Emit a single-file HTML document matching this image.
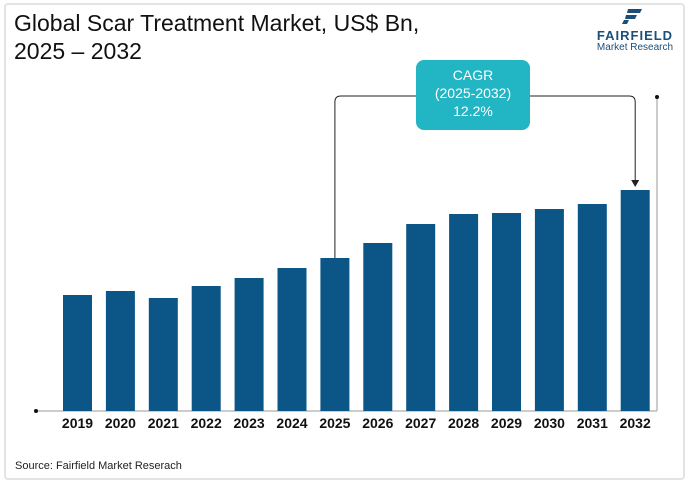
<!DOCTYPE html>
<html><head><meta charset="utf-8"><style>
body{margin:0;width:691px;height:485px;background:#fff;overflow:hidden;font-family:"Liberation Sans",sans-serif;}
.card{position:absolute;left:4px;top:3px;width:681px;height:477px;border:2px solid #e3e3e3;border-radius:4px;box-sizing:border-box;}
.title{position:absolute;left:14px;top:9px;font-size:23px;line-height:28px;color:#111;}
.logo{position:absolute;left:590px;top:8px;width:90px;text-align:center;}
.src{position:absolute;left:15px;top:460px;font-size:11px;color:#222;}
</style></head><body>
<div class="card"></div>
<div class="title">Global Scar Treatment Market, US$ Bn,<br>2025 – 2032</div>
<div class="logo">
<svg width="30" height="16" viewBox="0 0 30 16"><path d="M8 1h14l-2 4H7z M6 7h11l-2 4H5z M4 12h5l-2 4H2z" fill="#1b4f7a"/></svg>
<div style="font-size:13px;font-weight:bold;color:#1b4f7a;letter-spacing:1px;line-height:13px">FAIRFIELD</div>
<div style="font-size:10px;color:#1b4f7a;line-height:12px">Market Research</div>
</div>
<svg id="chart" width="691" height="485" style="position:absolute;left:0;top:0"></svg>
<div class="src">Source: Fairfield Market Reserach</div>
<script>
const categories=["2019","2020","2021","2022","2023","2024","2025","2026","2027","2028","2029","2030","2031","2032"];
const values=[116,120,113,125,133,143,153,168,187,197,198,202,207,221];
const NS="http://www.w3.org/2000/svg";
const svg=document.getElementById('chart');
const base=411, x0=63, step=42.9, bw=29;
const y=v=>base-v;
const xc=i=>x0+i*step;
function mk(t,a){const e=document.createElementNS(NS,t);for(const k in a)e.setAttribute(k,a[k]);svg.appendChild(e);return e;}
let ax=mk('line',{x1:36,y1:base,x2:657,y2:base,stroke:'#bbb','stroke-width':1.5});


let rl=mk('line',{x1:657,y1:97,x2:657,y2:base,stroke:'#bbb','stroke-width':1.5});


mk('circle',{cx:36,cy:base,r:2,fill:'#111'});
mk('circle',{cx:657,cy:97,r:2,fill:'#111'});
categories.forEach((c,i)=>{
 const r=mk('rect',{x:xc(i),y:y(values[i]),width:bw,height:values[i],fill:'#0b5687'});
 
 
 const t=mk('text',{x:xc(i)+bw/2,y:base+17,'text-anchor':'middle','font-size':14,'font-weight':'bold',fill:'#111','font-family':'Liberation Sans, sans-serif'});
 t.textContent=c;
 
 
});
const i25=categories.indexOf("2025"), i32=categories.indexOf("2032");
const lx=xc(i25)+bw/2, rx=xc(i32)+bw/2;
let p=mk('path',{d:`M416 96 H${lx+6} Q${lx} 96 ${lx} 102 V${y(values[i25])}`,fill:'none',stroke:'#222','stroke-width':1});


let p2=mk('path',{d:`M530 96 H${rx-6} Q${rx} 96 ${rx} 102 V${y(values[i32])-8}`,fill:'none',stroke:'#222','stroke-width':1});


mk('path',{d:`M${rx-4} ${y(values[i32])-10} L${rx+4} ${y(values[i32])-10} L${rx} ${y(values[i32])-3}Z`,fill:'#222'});
let box=mk('rect',{x:416,y:60,width:114,height:70,rx:8,fill:'#22b5c4'});


["CAGR","(2025-2032)","12.2%"].forEach((s,k)=>{
 const t=mk('text',{x:473,y:80+k*18,'text-anchor':'middle','font-size':14,fill:'#fff','font-family':'Liberation Sans, sans-serif'});
 t.textContent=s;
 
 
});
</script>
</body></html>
